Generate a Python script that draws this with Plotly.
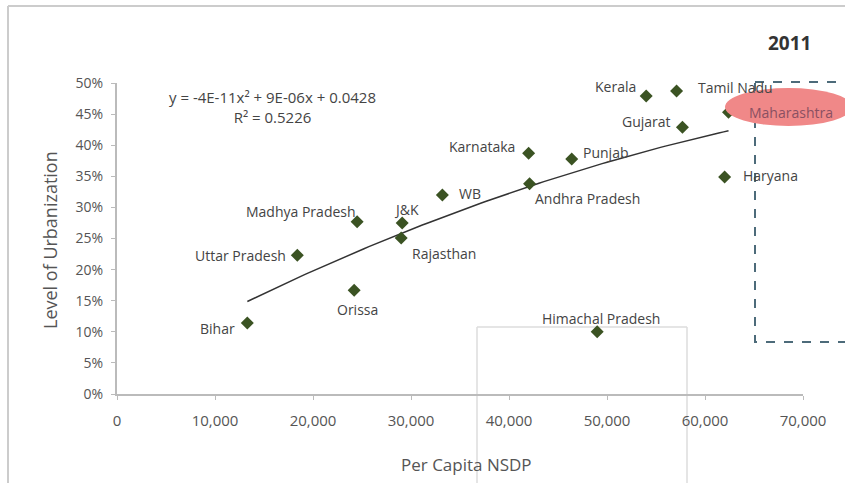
import numpy as np
import plotly.graph_objects as go

states = ["Bihar", "Uttar Pradesh", "Orissa", "Madhya Pradesh", "J&K", "Rajasthan", "WB",
          "Karnataka", "Andhra Pradesh", "Punjab", "Kerala", "Tamil Nadu", "Gujarat",
          "Maharashtra", "Haryana", "Himachal Pradesh"]
nsdp = [13300, 18400, 24200, 24500, 29100, 29000, 33200,
        42000, 42100, 46400, 54000, 57100, 57700, 62400, 62000, 49000]
urban = [0.114, 0.223, 0.167, 0.277, 0.275, 0.251, 0.320,
         0.387, 0.338, 0.378, 0.479, 0.487, 0.429, 0.453, 0.349, 0.100]
x_ticks = [0, 10000, 20000, 30000, 40000, 50000, 60000, 70000]
x_tick_labels = ["0", "10,000", "20,000", "30,000", "40,000", "50,000", "60,000", "70,000"]

# label placement: (xanchor, yanchor, xshift, yshift)
label_pos = {
    "Bihar": ("right", "middle", -10, -5),
    "Uttar Pradesh": ("right", "middle", -9, 0),
    "Orissa": ("center", "top", 3, -8),
    "Madhya Pradesh": ("right", "middle", 1, 10),
    "J&K": ("center", "bottom", 4, 2),
    "Rajasthan": ("left", "middle", 9, -16),
    "WB": ("left", "middle", 15, 1),
    "Karnataka": ("right", "middle", -12, 7),
    "Andhra Pradesh": ("left", "middle", 3, -15),
    "Punjab": ("left", "middle", 9, 6),
    "Kerala": ("right", "middle", -8, 10),
    "Tamil Nadu": ("left", "middle", 19, 4),
    "Gujarat": ("right", "middle", -9, 6),
    "Maharashtra": ("left", "middle", 18, 0),
    "Haryana": ("left", "middle", 16, 1),
    "Himachal Pradesh": ("center", "bottom", 4, 2),
}

coef = np.polyfit(nsdp, urban, 2)
xs = np.linspace(min(nsdp), max(nsdp), 100)
ys = np.polyval(coef, xs)

fig = go.Figure()
fig.add_trace(go.Scatter(x=xs, y=ys, mode="lines", line=dict(color="#333333", width=1.5),
                         hoverinfo="skip", showlegend=False))
fig.add_trace(go.Scatter(x=nsdp, y=urban, mode="markers",
                         marker=dict(symbol="diamond", size=10, color="#3b5323"),
                         text=states, showlegend=False))

font_family = "'Open Sans', Lato, sans-serif"


def px(xp):
    return (xp - 117) / 686


def py(yp):
    return (394 - yp) / 311


annotations = []
for s, xv, yv in zip(states, nsdp, urban):
    xa, ya, dx, dy = label_pos[s]
    annotations.append(dict(x=xv, y=yv, xref="x", yref="y", text=s, showarrow=False,
                            xanchor=xa, yanchor=ya, xshift=dx, yshift=dy,
                            font=dict(size=14, color="#8a5062" if s == "Maharashtra" else "#444444",
                                      family=font_family)))
annotations.append(dict(x=px(272), y=py(107), xref="paper", yref="paper",
                        text="y = -4E-11x² + 9E-06x + 0.0428<br>R² = 0.5226", showarrow=False,
                        xanchor="center", yanchor="middle", align="center",
                        font=dict(size=15, color="#444444", family=font_family)))
annotations.append(dict(x=px(789), y=py(43), xref="paper", yref="paper",
                        text="<b>2011</b>", showarrow=False, xanchor="center", yanchor="middle",
                        font=dict(size=19, color="#333333", family=font_family)))
annotations.append(dict(x=px(466), y=py(464), xref="paper", yref="paper",
                        text="Per Capita NSDP", showarrow=False, xanchor="center", yanchor="middle",
                        font=dict(size=17, color="#555555", family=font_family)))
annotations.append(dict(x=px(50), y=py(240), xref="paper", yref="paper",
                        text="Level of Urbanization", showarrow=False, xanchor="center", yanchor="middle",
                        textangle=-90,
                        font=dict(size=18, color="#555555", family=font_family)))

shapes = [
    # outer frame
    dict(type="line", xref="paper", yref="paper", x0=px(8), x1=px(850), y0=py(6), y1=py(6),
         line=dict(color="#cccccc", width=2), layer="below"),
    dict(type="line", xref="paper", yref="paper", x0=px(8), x1=px(8), y0=py(6), y1=py(490),
         line=dict(color="#cccccc", width=2), layer="below"),
    # selection artifact
    dict(type="line", xref="paper", yref="paper", x0=px(477), x1=px(687), y0=py(327), y1=py(327),
         line=dict(color="#dddddd", width=1.5), layer="below"),
    dict(type="line", xref="paper", yref="paper", x0=px(477), x1=px(477), y0=py(327), y1=py(490),
         line=dict(color="#dddddd", width=1.5), layer="below"),
    dict(type="line", xref="paper", yref="paper", x0=px(687), x1=px(687), y0=py(327), y1=py(490),
         line=dict(color="#dddddd", width=1.5), layer="below"),
    # dashed rectangle
    dict(type="rect", xref="paper", yref="paper", x0=px(755), x1=px(860), y0=py(82), y1=py(342),
         line=dict(color="#4d6b7a", width=2, dash="dash"), layer="above"),
    # highlight ellipse
    dict(type="circle", xref="paper", yref="paper", x0=px(725), x1=px(852), y0=py(88), y1=py(126),
         fillcolor="#f08888", line=dict(width=0), layer="above"),
]

fig.update_layout(
    width=845, height=483,
    margin=dict(l=117, r=42, t=83, b=89, autoexpand=False),
    paper_bgcolor="white", plot_bgcolor="white",
    showlegend=False,
    annotations=annotations,
    shapes=shapes,
    font=dict(family=font_family, color="#555555"),
    xaxis=dict(range=[0, 70000], tickvals=x_ticks, ticktext=x_tick_labels,
               showgrid=False, zeroline=False, showline=True, linecolor="#bbbbbb", linewidth=2,
               ticks="outside", ticklen=4, tickcolor="#bbbbbb", ticklabelstandoff=8,
               tickfont=dict(size=15, color="#555555")),
    yaxis=dict(range=[0, 0.5], dtick=0.05, tickformat=".0%",
               showgrid=False, zeroline=False, showline=True, linecolor="#bbbbbb", linewidth=2,
               ticks="outside", ticklen=4, tickcolor="#bbbbbb", ticklabelstandoff=5,
               tickfont=dict(size=14, color="#555555")),
)

fig.write_html("out.html", config={"displayModeBar": False},
               post_script="document.body.style.margin='0';document.body.style.overflow='hidden';")
